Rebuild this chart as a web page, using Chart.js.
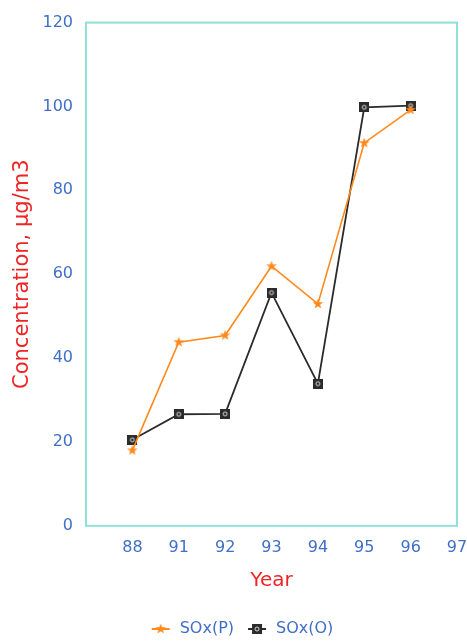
<!DOCTYPE html>
<html>
<head>
<meta charset="utf-8">
<script src="https://cdn.jsdelivr.net/npm/chart.js@4/dist/chart.umd.min.js"></script>
<style>
  html, body { margin: 0; padding: 0; background: #fff; }
  #wrap { width: 467px; height: 642px; position: relative; }
</style>
</head>
<body>
<div id="wrap"><canvas id="c"></canvas></div>
<script>
// Year categories (the first slot is a blank lead-in position on the axis)
const years = ['', '88', '91', '92', '93', '94', '95', '96', '97'];
// SOx concentration, µg/m3
const soxP = [null, 18.0, 43.8, 45.4, 61.9, 52.9, 91.3, 99.2, null];
const soxO = [null, 20.5, 26.6, 26.7, 55.6, 33.9, 99.8, 100.2, null];
// Value axis range
const yMin = 0, yMax = 120, yStep = 20;

const ORANGE = '#ff8a1c';
const DARK = '#2b2b2b';
const BLUE = '#3f6fc6';
const RED = '#ee2424';
const FRAME = '#8fe0d8';
const FONT = 'DejaVu Sans';

function starMarker(size) {
  const c = document.createElement('canvas');
  c.width = size; c.height = size;
  const g = c.getContext('2d');
  const cx = size / 2, cy = size / 2, ro = size / 2 - 0.5, ri = ro * 0.42;
  g.beginPath();
  for (let i = 0; i < 10; i++) {
    const r = i % 2 ? ri : ro;
    const a = -Math.PI / 2 + i * Math.PI / 5;
    const x = cx + r * Math.cos(a), y = cy + r * Math.sin(a);
    i ? g.lineTo(x, y) : g.moveTo(x, y);
  }
  g.closePath();
  g.fillStyle = ORANGE; g.fill();
  return c;
}

function squareMarker(size) {
  const c = document.createElement('canvas');
  c.width = size; c.height = size;
  const g = c.getContext('2d');
  g.fillStyle = DARK;
  g.fillRect(0, 0, size, size);
  g.strokeStyle = '#d8d8d8'; g.lineWidth = 1;
  g.beginPath(); g.arc(size / 2, size / 2, size * 0.2, 0, Math.PI * 2); g.stroke();
  return c;
}

function legendMarker(kind) {
  const w = 22, h = 14;
  const c = document.createElement('canvas');
  c.width = w; c.height = h;
  const g = c.getContext('2d');
  g.strokeStyle = kind === 'star' ? ORANGE : DARK;
  g.lineWidth = 2;
  g.beginPath(); g.moveTo(2, h / 2); g.lineTo(w - 2, h / 2); g.stroke();
  const m = kind === 'star' ? starMarker(12) : squareMarker(10);
  g.drawImage(m, (w - m.width) / 2, (h - m.height) / 2);
  return c;
}

const starImg = starMarker(12);
const squareImg = squareMarker(10);
const legendStar = legendMarker('star');
const legendSquare = legendMarker('square');

// Turquoise frame around the plotting area
const framePlugin = {
  id: 'frame',
  beforeDatasetsDraw(chart) {
    const { ctx, chartArea: a } = chart;
    ctx.save();
    ctx.strokeStyle = FRAME;
    ctx.lineWidth = 2;
    ctx.strokeRect(a.left, a.top, a.right - a.left, a.bottom - a.top);
    ctx.restore();
  }
};

// Nudge the legend row right of the canvas centre and a little lower
const legendShift = {
  id: 'legendShift',
  afterLayout(chart) {
    const l = chart.legend;
    if (l) { l.left += 8; l.right += 8; l.top += 5; l.bottom += 5; }
  }
};

new Chart(document.getElementById('c'), {
  type: 'line',
  data: {
    labels: years,
    datasets: [
      {
        label: 'SOx(P)',
        data: soxP,
        borderColor: ORANGE,
        backgroundColor: ORANGE,
        borderWidth: 1.6,
        pointStyle: starImg,
        pointRadius: 6,
        tension: 0,
        spanGaps: false
      },
      {
        label: 'SOx(O)',
        data: soxO,
        borderColor: DARK,
        backgroundColor: DARK,
        borderWidth: 1.8,
        pointStyle: squareImg,
        pointRadius: 5,
        tension: 0,
        spanGaps: false
      }
    ]
  },
  options: {
    responsive: true,
    maintainAspectRatio: false,
    animation: false,
    devicePixelRatio: 1,
    layout: { padding: { top: 21, right: 0, left: 0, bottom: 0 } },
    plugins: {
      tooltip: { enabled: false },
      legend: {
        position: 'bottom',
        labels: {
          usePointStyle: true,
          pointStyleWidth: 22,
          padding: 12,
          color: BLUE,
          font: { family: FONT, size: 16 },
          generateLabels(chart) {
            return chart.data.datasets.map((ds, i) => ({
              text: ds.label,
              pointStyle: i === 0 ? legendStar : legendSquare,
              fontColor: BLUE,
              lineWidth: 0,
              strokeStyle: 'transparent',
              fillStyle: 'transparent',
              datasetIndex: i
            }));
          }
        }
      }
    },
    scales: {
      x: {
        offset: false,
        grid: { display: false, drawTicks: false },
        border: { display: false },
        ticks: {
          color: BLUE,
          font: { family: FONT, size: 16 },
          padding: 12,
          maxRotation: 0,
          autoSkip: false
        },
        title: {
          display: true,
          text: 'Year',
          color: RED,
          font: { family: FONT, size: 20 },
          padding: { top: 0, bottom: 11 }
        },
        afterFit(scale) { scale.paddingRight = 10; scale.paddingLeft = 0; }
      },
      y: {
        min: yMin,
        max: yMax,
        grid: { display: false, drawTicks: false },
        border: { display: false },
        ticks: {
          stepSize: yStep,
          color: BLUE,
          font: { family: FONT, size: 16 },
          padding: 13
        },
        title: {
          display: true,
          text: 'Concentration, μg/m3',
          color: RED,
          font: { family: FONT, size: 21 },
          padding: { top: 10, bottom: 0 }
        },
        afterFit(scale) { scale.width = 86; }
      }
    }
  },
  plugins: [framePlugin, legendShift]
});
</script>
</body>
</html>
